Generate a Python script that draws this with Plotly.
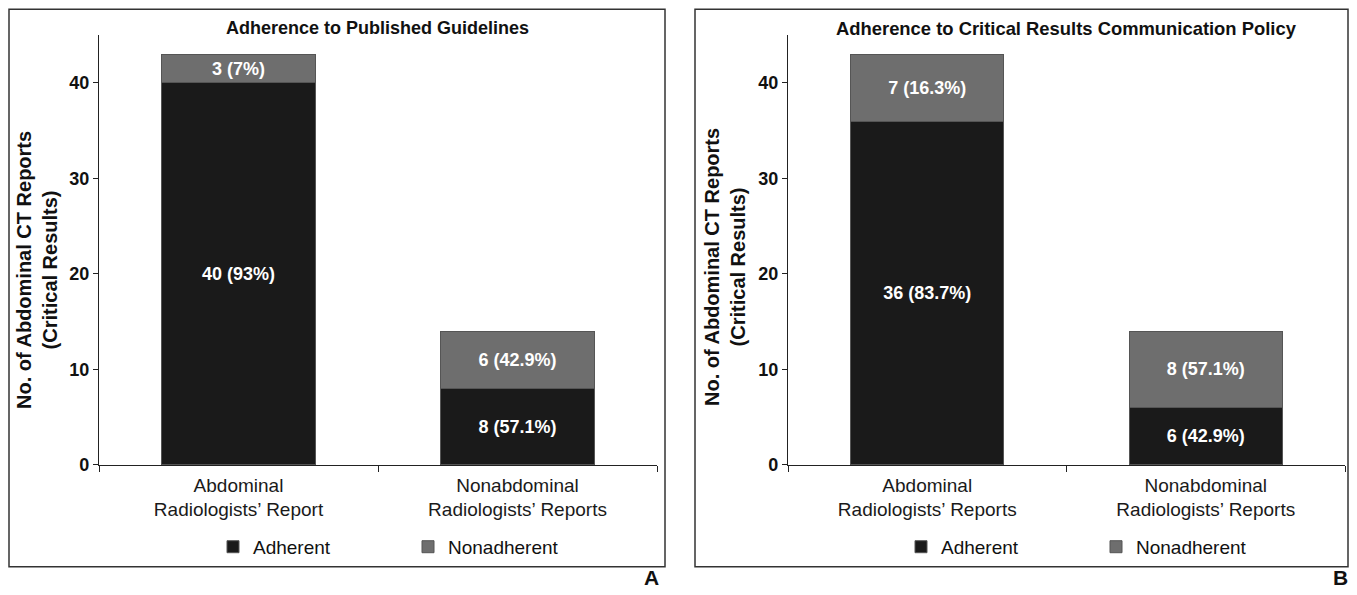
import plotly.graph_objects as go

# The page has an 8px body margin and is photographed with a slight vertical squeeze,
# so target positions (in picture pixels) are converted into figure pixels below.
OFF = 8
SY = 595 / 605
W, H = 1341, 587

categories_a = ["Abdominal<br>Radiologists’ Report", "Nonabdominal<br>Radiologists’ Reports"]
categories_b = ["Abdominal<br>Radiologists’ Reports", "Nonabdominal<br>Radiologists’ Reports"]

adherent_a = [40, 8]
nonadherent_a = [3, 6]
adherent_a_pct = ["93%", "57.1%"]
nonadherent_a_pct = ["7%", "42.9%"]

adherent_b = [36, 6]
nonadherent_b = [7, 8]
adherent_b_pct = ["83.7%", "42.9%"]
nonadherent_b_pct = ["16.3%", "57.1%"]

title_a = "Adherence to Published Guidelines"
title_b = "Adherence to Critical Results Communication Policy"
y_title = "No. of Abdominal CT Reports<br>(Critical Results)"
y_ticks = [0, 10, 20, 30, 40]

DARK = "#1a1a1a"
GRAY = "#6e6e6e"
FONT = "Liberation Sans, Arial, Helvetica, sans-serif"


def px_x(x):
    return (x - OFF) / W


def px_y(y):
    return 1 - (y / SY - OFF) / H


fig = go.Figure()


def add_panel(cats, adh, non, adh_pct, non_pct, xa, ya, legend):
    fig.add_trace(go.Bar(
        x=cats, y=adh, name="Adherent", xaxis=xa, yaxis=ya, legend=legend,
        marker=dict(color=DARK, line=dict(color="#555555", width=1)),
        text=[f"{v} ({p})" for v, p in zip(adh, adh_pct)],
        textposition="inside", insidetextanchor="middle", textangle=0,
        textfont=dict(color="white", size=18, family=FONT, weight="bold"),
        width=0.55,
    ))
    fig.add_trace(go.Bar(
        x=cats, y=non, name="Nonadherent", xaxis=xa, yaxis=ya, legend=legend,
        marker=dict(color=GRAY, line=dict(color="#555555", width=1)),
        text=[f"{v} ({p})" for v, p in zip(non, non_pct)],
        textposition="inside", insidetextanchor="middle", textangle=0,
        textfont=dict(color="white", size=18, family=FONT, weight="bold"),
        width=0.55,
    ))


add_panel(categories_a, adherent_a, nonadherent_a, adherent_a_pct, nonadherent_a_pct, "x", "y", "legend")
add_panel(categories_b, adherent_b, nonadherent_b, adherent_b_pct, nonadherent_b_pct, "x2", "y2", "legend2")

ydom = [px_y(465), px_y(35)]
xaxis_common = dict(
    showline=True, linecolor="#222222", linewidth=1.2,
    ticks="outside", ticklen=6, tickcolor="#222222", tickson="boundaries",
    ticklabelstandoff=3,
    tickfont=dict(size=19, color="#1a1a1a", family=FONT),
    showgrid=False, zeroline=False,
)
yaxis_common = dict(
    range=[0, 45], tickvals=y_ticks, showline=True, linecolor="#222222", linewidth=1.2,
    ticks="outside", ticklen=5, tickcolor="#222222",
    tickfont=dict(size=18, color="#111111", family=FONT, weight="bold"),
    showgrid=False, zeroline=False,
)

legend_common = dict(
    orientation="h", xanchor="left", yanchor="middle", traceorder="normal",
    font=dict(size=19, color="#111111", family=FONT),
    entrywidth=150, entrywidthmode="pixels",
    bgcolor="rgba(0,0,0,0)",
)

fig.update_layout(
    width=W, height=H,
    margin=dict(l=0, r=0, t=0, b=0),
    paper_bgcolor="white", plot_bgcolor="white",
    barmode="stack",
    font=dict(family=FONT, color="#111111"),
    xaxis=dict(domain=[px_x(99), px_x(657)], anchor="y", **xaxis_common),
    yaxis=dict(domain=ydom, anchor="x", **yaxis_common),
    xaxis2=dict(domain=[px_x(788), px_x(1345)], anchor="y2", **xaxis_common),
    yaxis2=dict(domain=ydom, anchor="x2", **yaxis_common),
    legend=dict(x=px_x(213), y=px_y(547), **legend_common),
    legend2=dict(x=px_x(901), y=px_y(547), **legend_common),
    showlegend=True,
)

shapes = []
for x0, x1 in [(9, 665), (695, 1348)]:
    shapes.append(dict(type="rect", xref="paper", yref="paper",
                       x0=px_x(x0), x1=px_x(x1), y0=px_y(567), y1=px_y(9),
                       line=dict(color="#333333", width=1.5), fillcolor="rgba(0,0,0,0)"))
fig.update_layout(shapes=shapes)


def ann(text, x, y, size, angle=0, family=FONT):
    return dict(text=text, x=px_x(x), y=px_y(y), xref="paper", yref="paper",
                showarrow=False, textangle=angle,
                font=dict(size=size, family=family, color="#111111"),
                xanchor="center", yanchor="middle")


annotations = [
    ann(f"<b>{title_a}</b>", 377, 28, 18),
    ann(f"<b>{title_b}</b>", 1066, 28, 18.4),
    ann(f"<b>{y_title}</b>", 37, 270, 20, angle=-90),
    ann(f"<b>{y_title}</b>", 725, 267, 20, angle=-90),
    ann("<b>A</b>", 651, 578, 21),
    ann("<b>B</b>", 1340, 578, 21),
]
fig.update_layout(annotations=annotations)

fig.write_html("out.html")
